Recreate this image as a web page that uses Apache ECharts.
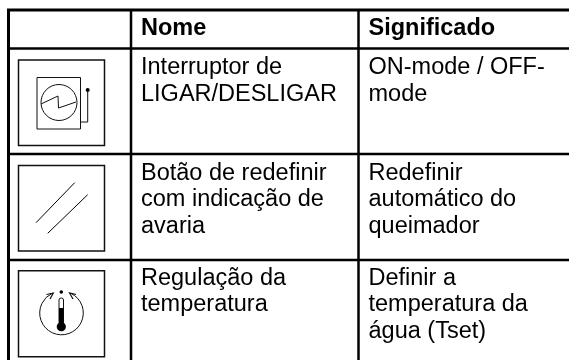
<!DOCTYPE html>
<html>
<head>
<meta charset="utf-8">
<style>
  html, body { margin: 0; padding: 0; background: #fff; }
  #main { width: 569px; height: 360px; }
</style>
<script src="https://cdn.jsdelivr.net/npm/echarts@6/dist/echarts.min.js"></script>
</head>
<body>
<div id="main"></div>
<script>
  var headers = ['Nome', 'Significado'];
  var names = [
    ['Interruptor de', 'LIGAR/DESLIGAR'],
    ['Botão de redefinir', 'com indicação de', 'avaria'],
    ['Regulação da', 'temperatura']
  ];
  var meanings = [
    ['ON-mode / OFF-', 'mode'],
    ['Redefinir', 'automático do', 'queimador'],
    ['Definir a', 'temperatura da', 'água (Tset)']
  ];

  var chart = echarts.init(document.getElementById('main'));
  var font = '"Liberation Sans", Arial, sans-serif';
  var els = [];

  function line(x1, y1, x2, y2, w) {
    els.push({ type: 'line', shape: { x1: x1, y1: y1, x2: x2, y2: y2 }, style: { stroke: '#000', lineWidth: w } });
  }
  function poly(points, w) {
    els.push({ type: 'polyline', shape: { points: points }, style: { stroke: '#111', fill: null, lineWidth: w } });
  }
  function box(x, y, w, h, lw) {
    els.push({ type: 'rect', shape: { x: x, y: y, width: w, height: h }, style: { stroke: '#111', fill: '#fff', lineWidth: lw } });
  }
  function dot(x, y, r) {
    els.push({ type: 'circle', shape: { cx: x, cy: y, r: r }, style: { fill: '#000' } });
  }
  function label(x, y, str, bold) {
    els.push({
      type: 'text', x: x, y: y,
      style: { text: str, fill: '#000', font: (bold ? 'bold ' : '') + '23.5px ' + font, textVerticalAlign: 'middle' }
    });
  }

  // rejillas de la tabla
  line(7, 10, 569, 10, 3);
  line(8, 48.5, 569, 48.5, 2.5);
  line(8, 154, 569, 154, 2.5);
  line(8, 260, 569, 260, 2.5);
  line(8.5, 9, 8.5, 360, 3);
  line(131, 10, 131, 360, 2.5);
  line(358.5, 10, 358.5, 360, 2.5);

  // textos
  var colX = [141, 368.5];
  var rowY = [68, 173.5, 278.5];
  var pitch = 26.5;
  label(colX[0], 28.5, headers[0], true);
  label(colX[1], 28.5, headers[1], true);
  names.forEach(function (rows, i) {
    rows.forEach(function (t, j) { label(colX[0], rowY[i] + j * pitch, t); });
  });
  meanings.forEach(function (rows, i) {
    rows.forEach(function (t, j) { label(colX[1], rowY[i] + j * pitch, t); });
  });

  // icono 1
  box(18.5, 60, 86, 85.5, 1.5);
  box(37, 77.5, 43.5, 51.5, 1);
  els.push({ type: 'circle', shape: { cx: 59, cy: 102.5, r: 18 }, style: { stroke: '#111', fill: null, lineWidth: 1 } });
  poly([[41, 104], [58, 96], [58.5, 108], [76, 102]], 1);
  poly([[80.5, 122], [87.7, 122], [87.7, 90]], 1);
  dot(87.7, 90, 2);

  // icono 2
  box(18.5, 165.5, 86, 85.5, 1.5);
  line(36, 222.7, 74.7, 182.7, 1);
  line(47.7, 233.3, 87.7, 194.7, 1);

  // icono 3
  box(18.5, 270.7, 86, 86, 1.5);
  els.push({
    type: 'arc',
    shape: { cx: 61.5, cy: 313, r: 21.8, startAngle: -65 * Math.PI / 180, endAngle: 245 * Math.PI / 180, clockwise: true },
    style: { stroke: '#111', fill: null, lineWidth: 1 }
  });
  poly([[46.5, 294.5], [53.3, 293], [50, 299]], 1.2);
  poly([[76, 294.5], [69.5, 293], [73, 299]], 1.2);
  dot(61.3, 292, 1.8);
  els.push({ type: 'rect', shape: { x: 59, y: 298, width: 4.5, height: 26, r: 2 }, style: { stroke: '#111', fill: '#fff', lineWidth: 1 } });
  els.push({ type: 'rect', shape: { x: 59, y: 308, width: 4.5, height: 16 }, style: { fill: '#000' } });
  dot(61.3, 326.7, 4.6);

  chart.setOption({ animation: false, backgroundColor: '#fff', graphic: { elements: els } });
</script>
</body>
</html>
